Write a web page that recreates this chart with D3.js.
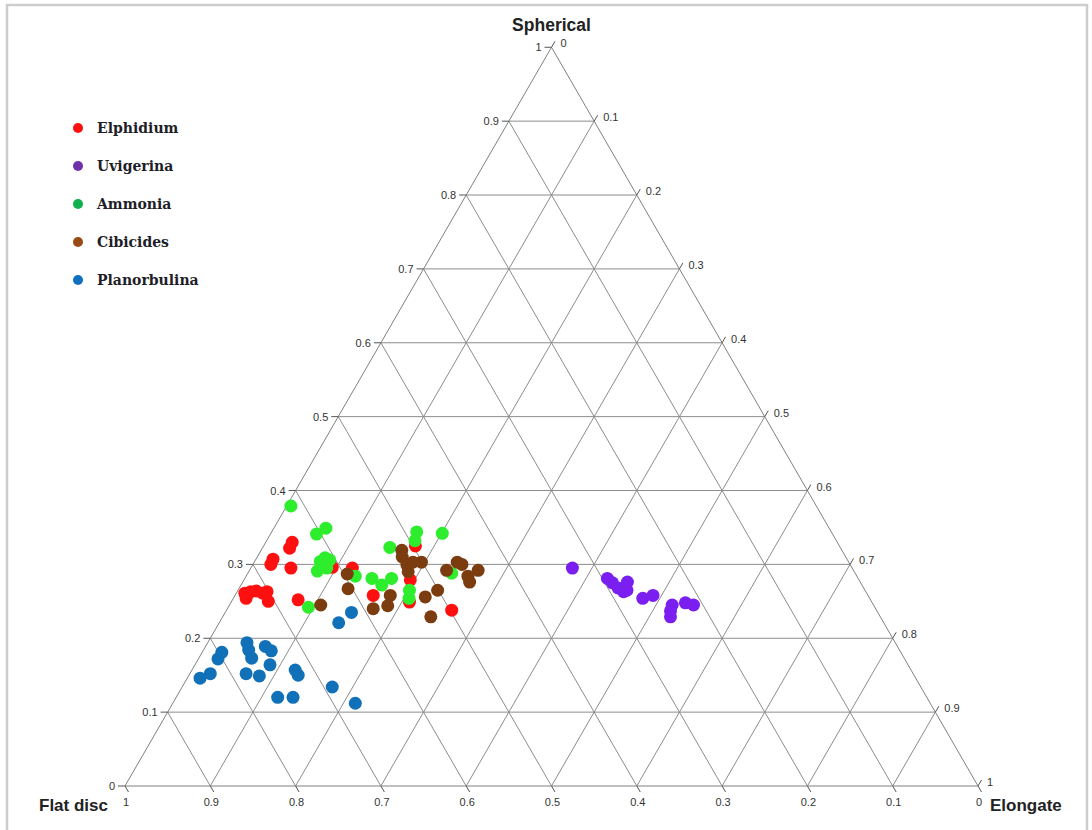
<!DOCTYPE html>
<html>
<head>
<meta charset="utf-8">
<script src="https://cdn.jsdelivr.net/npm/d3@7/dist/d3.min.js"></script>
<style>
  html, body { margin: 0; padding: 0; background: #fff; }
  svg { display: block; }
</style>
</head>
<body>
<svg id="chart" width="1092" height="830"></svg>
<script>
// Foraminifera test shape: ternary composition [Flat disc, Spherical, Elongate]
const speciesNames = ["Elphidium", "Uvigerina", "Ammonia", "Cibicides", "Planorbulina"];
const speciesColors = ["#ff1010", "#7a1ff0", "#2ded2d", "#7b3c0f", "#1070b8"];
const legendColors = ["#ff1010", "#7030a8", "#10b050", "#9a4a14", "#1070c0"];

const elphidium = [
  [0.639, 0.330, 0.031], [0.646, 0.322, 0.032], [0.673, 0.307, 0.020], [0.679, 0.300, 0.021],
  [0.658, 0.295, 0.047], [0.731, 0.254, 0.015], [0.729, 0.261, 0.010], [0.721, 0.263, 0.016],
  [0.714, 0.264, 0.022], [0.708, 0.261, 0.031], [0.702, 0.263, 0.035], [0.707, 0.250, 0.043],
  [0.671, 0.252, 0.077], [0.609, 0.296, 0.095], [0.586, 0.295, 0.119], [0.580, 0.258, 0.162],
  [0.526, 0.279, 0.195], [0.542, 0.249, 0.209], [0.497, 0.325, 0.178], [0.498, 0.238, 0.264]
];
const uvigerina = [
  [0.328, 0.295, 0.377], [0.294, 0.281, 0.425], [0.291, 0.275, 0.434], [0.288, 0.268, 0.444],
  [0.273, 0.276, 0.451], [0.279, 0.265, 0.456], [0.284, 0.263, 0.453], [0.266, 0.254, 0.480],
  [0.252, 0.258, 0.490], [0.236, 0.245, 0.519], [0.242, 0.237, 0.521], [0.246, 0.229, 0.525],
  [0.219, 0.248, 0.533], [0.211, 0.245, 0.544]
];
const ammonia = [
  [0.616, 0.379, 0.005], [0.590, 0.349, 0.061], [0.605, 0.341, 0.054], [0.611, 0.309, 0.080],
  [0.619, 0.304, 0.077], [0.607, 0.306, 0.087], [0.616, 0.295, 0.089], [0.629, 0.291, 0.080],
  [0.588, 0.284, 0.128], [0.664, 0.242, 0.094], [0.486, 0.344, 0.170], [0.494, 0.332, 0.174],
  [0.457, 0.342, 0.201], [0.528, 0.323, 0.149], [0.570, 0.281, 0.149], [0.563, 0.272, 0.165],
  [0.547, 0.281, 0.172], [0.534, 0.265, 0.201], [0.540, 0.254, 0.206], [0.473, 0.288, 0.239]
];
const cibicides = [
  [0.596, 0.287, 0.117], [0.605, 0.267, 0.128], [0.648, 0.245, 0.107], [0.589, 0.240, 0.171],
  [0.560, 0.258, 0.182], [0.570, 0.244, 0.186], [0.516, 0.319, 0.165], [0.520, 0.310, 0.170],
  [0.520, 0.299, 0.181], [0.511, 0.303, 0.186], [0.501, 0.303, 0.196], [0.523, 0.290, 0.187],
  [0.459, 0.303, 0.238], [0.455, 0.300, 0.245], [0.477, 0.292, 0.231], [0.456, 0.284, 0.260],
  [0.458, 0.276, 0.266], [0.440, 0.292, 0.268], [0.501, 0.265, 0.234], [0.520, 0.256, 0.224],
  [0.527, 0.229, 0.244]
];
const planorbulina = [
  [0.617, 0.235, 0.148], [0.639, 0.221, 0.140], [0.760, 0.194, 0.046], [0.763, 0.184, 0.053],
  [0.765, 0.173, 0.062], [0.782, 0.152, 0.066], [0.768, 0.149, 0.083], [0.748, 0.164, 0.088],
  [0.741, 0.189, 0.070], [0.737, 0.183, 0.080], [0.796, 0.181, 0.023], [0.805, 0.172, 0.023],
  [0.824, 0.152, 0.024], [0.839, 0.146, 0.015], [0.722, 0.157, 0.121], [0.722, 0.150, 0.128],
  [0.690, 0.134, 0.176], [0.761, 0.120, 0.119], [0.743, 0.120, 0.137], [0.674, 0.112, 0.214]
];
const seriesData = [elphidium, uvigerina, ammonia, cibicides, planorbulina];

const axisTicks = [0, 0.1, 0.2, 0.3, 0.4, 0.5, 0.6, 0.7, 0.8, 0.9, 1];
const tickLabels = ["0", "0.1", "0.2", "0.3", "0.4", "0.5", "0.6", "0.7", "0.8", "0.9", "1"];
const axisTitles = ["Flat disc", "Spherical", "Elongate"];

// ---- geometry ----
const svg = d3.select("#chart");
const baseLeft = 125, baseRight = 978, baseY = 786;
const side = baseRight - baseLeft;
const apexY = baseY - side * Math.sqrt(3) / 2;

// horizontal position from (elongate + spherical/2), vertical from spherical
const xScale = d3.scaleLinear().domain([0, 1]).range([baseLeft, baseRight]);
const yScale = d3.scaleLinear().domain([0, 1]).range([baseY, apexY]);

function project(f, s, e) {
  const t = f + s + e;
  const S = s / t, E = e / t;
  return [xScale(E + S / 2), yScale(S)];
}

// frame
svg.append("rect")
  .attr("x", 7).attr("y", 5).attr("width", 1080).attr("height", 840)
  .attr("fill", "none").attr("stroke", "#cdcdcd").attr("stroke-width", 2.5);

const gridColor = "#8c8c8c";
const grid = svg.append("g").attr("stroke", gridColor).attr("stroke-width", 1).attr("fill", "none");

const line = d3.line();
axisTicks.filter(v => v > 0 && v < 1).forEach(v => {
  // constant spherical
  grid.append("path").attr("d", line([project(1 - v, v, 0), project(0, v, 1 - v)]));
  // constant elongate
  grid.append("path").attr("d", line([project(1 - v, 0, v), project(0, 1 - v, v)]));
  // constant flat disc
  grid.append("path").attr("d", line([project(v, 0, 1 - v), project(v, 1 - v, 0)]));
});

// triangle outline
grid.append("path")
  .attr("d", line([project(1, 0, 0), project(0, 1, 0), project(0, 0, 1)]) + "Z")
  .attr("stroke", "#808080");

// ticks and labels
const tickG = svg.append("g").attr("stroke", "#555").attr("stroke-width", 1);
const labelG = svg.append("g")
  .attr("font-family", "Liberation Sans, Arial, sans-serif")
  .attr("font-size", 11).attr("fill", "#333");

axisTicks.forEach((v, i) => {
  // Spherical on the left edge
  let [x, y] = project(1 - v, v, 0);
  tickG.append("line").attr("x1", x).attr("y1", y).attr("x2", x - 7).attr("y2", y);
  labelG.append("text").attr("x", x - 10).attr("y", y + 4)
    .attr("text-anchor", "end").text(tickLabels[i]);

  // Elongate on the right edge
  [x, y] = project(0, 1 - v, v);
  tickG.append("line").attr("x1", x).attr("y1", y).attr("x2", x + 3.5).attr("y2", y - 6);
  labelG.append("text").attr("x", x + 9).attr("y", y)
    .attr("text-anchor", "start").text(tickLabels[i]);

  // Flat disc on the base
  [x, y] = project(v, 0, 1 - v);
  tickG.append("line").attr("x1", x).attr("y1", y).attr("x2", x + 3.5).attr("y2", y + 6);
  labelG.append("text").attr("x", x + 1).attr("y", y + 20)
    .attr("text-anchor", "middle").text(tickLabels[i]);
});

// axis titles
const titleG = svg.append("g")
  .attr("font-family", "Liberation Sans, Arial, sans-serif")
  .attr("font-weight", "bold").attr("fill", "#222");
const apex = project(0, 1, 0);
titleG.append("text").attr("x", apex[0]).attr("y", 31).attr("text-anchor", "middle")
  .attr("font-size", 17.5).text(axisTitles[1]);
titleG.append("text").attr("x", 39).attr("y", 811).attr("text-anchor", "start")
  .attr("font-size", 17).text(axisTitles[0]);
titleG.append("text").attr("x", 990).attr("y", 811).attr("text-anchor", "start")
  .attr("font-size", 17).text(axisTitles[2]);

// data points
const pts = svg.append("g");
seriesData.forEach((arr, k) => {
  pts.append("g").selectAll("circle").data(arr).join("circle")
    .attr("cx", d => project(d[0], d[1], d[2])[0])
    .attr("cy", d => project(d[0], d[1], d[2])[1])
    .attr("r", 6.5)
    .attr("fill", speciesColors[k]);
});

// legend
const legend = svg.append("g");
speciesNames.forEach((name, i) => {
  const cy = 128 + i * 38;
  legend.append("circle").attr("cx", 78).attr("cy", cy).attr("r", 5).attr("fill", legendColors[i]);
  legend.append("text").attr("x", 97).attr("y", cy + 5)
    .attr("font-family", "DejaVu Serif, serif").attr("font-weight", "bold")
    .attr("font-size", 14).attr("fill", "#1e1e28").text(name);
});
</script>
</body>
</html>
